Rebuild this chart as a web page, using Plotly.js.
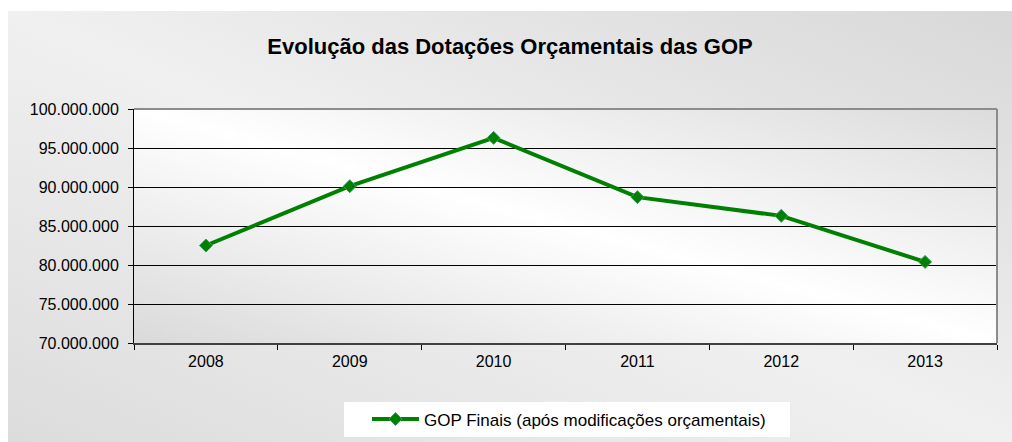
<!DOCTYPE html>
<html>
<head>
<meta charset="utf-8">
<script src="https://cdn.plot.ly/plotly-3.0.1.min.js"></script>
<style>
  body { margin: 0; background: #ffffff; }
  #chart {
    position: absolute; left: 8px; top: 11px; width: 1004px; height: 431px;
    background: linear-gradient(to bottom left, #d8d8d8 0%, #f0f0f0 50%, #dcdcdc 100%);
  }
</style>
</head>
<body>
<div id="chart"></div>
<script>
const years = ["2008", "2009", "2010", "2011", "2012", "2013"];
const gopFinais = [82500000, 90100000, 96300000, 88700000, 86300000, 80400000];
const seriesName = "GOP Finais (após modificações orçamentais)";
const chartTitle = "Evolução das Dotações Orçamentais das GOP";

// gradient for the plot area (square canvas, stretched to fit)
function plotBg() {
  const c = document.createElement("canvas");
  c.width = 400; c.height = 400;
  const ctx = c.getContext("2d");
  const g = ctx.createLinearGradient(400, 0, 0, 400);
  g.addColorStop(0, "#dcdcdc");
  g.addColorStop(0.5, "#ffffff");
  g.addColorStop(1, "#dadada");
  ctx.fillStyle = g;
  ctx.fillRect(0, 0, 400, 400);
  return c.toDataURL();
}

const font = "'Liberation Sans', Arial, sans-serif";

const trace = {
  x: years,
  y: gopFinais,
  type: "scatter",
  mode: "lines+markers",
  name: seriesName,
  line: { color: "#008000", width: 4 },
  marker: { symbol: "diamond", size: 10, color: "#008000", line: { color: "#3c9c64", width: 1 } }
};

const layout = {
  width: 1004,
  height: 431,
  margin: { l: 126, r: 15, t: 98, b: 99 },
  paper_bgcolor: "rgba(0,0,0,0)",
  plot_bgcolor: "rgba(0,0,0,0)",
  separators: ",.",
  font: { family: font, color: "#000000", size: 16 },
  title: {
    text: "<b>" + chartTitle + "</b>",
    font: { family: font, size: 22, color: "#000000" },
    x: 0.5, xanchor: "center",
    yref: "container", y: 0.918, yanchor: "middle"
  },
  xaxis: {
    type: "category",
    range: [-0.5, 5.5],
    showline: true, linecolor: "#404040", linewidth: 2,
    ticks: "outside", tickson: "boundaries", ticklen: 5, tickcolor: "#000000",
    showgrid: false,
    ticklabelstandoff: 3,
    tickfont: { size: 16 }
  },
  yaxis: {
    range: [70000000, 100000000],
    dtick: 5000000,
    tickformat: ",d",
    showline: true, linecolor: "#000000", linewidth: 1,
    ticks: "outside", ticklen: 5, tickcolor: "#000000",
    showgrid: true, gridcolor: "#000000", gridwidth: 1,
    zeroline: false,
    ticklabelstandoff: 6,
    tickfont: { size: 16 }
  },
  images: [{
    source: plotBg(),
    xref: "paper", yref: "paper",
    x: 0, y: 1, sizex: 1, sizey: 1,
    sizing: "stretch", layer: "below"
  }],
  shapes: [
    { type: "line", xref: "paper", yref: "paper", x0: 0, x1: 1, y0: 1, y1: 1, line: { color: "#8c8c8c", width: 2 } },
    { type: "line", xref: "paper", yref: "paper", x0: 1, x1: 1, y0: 0, y1: 1, line: { color: "#8c8c8c", width: 2 } },
    { type: "rect", xref: "paper", yref: "paper",
      x0: (336 - 126) / 863, x1: (782 - 126) / 863,
      y0: -(426 - 332) / 234, y1: -(391 - 332) / 234,
      fillcolor: "#ffffff", line: { width: 0 }, layer: "below" }
  ],
  showlegend: true,
  legend: {
    orientation: "h",
    xref: "container", yref: "container",
    x: 359 / 1004, xanchor: "left",
    y: 1 - 408.5 / 431, yanchor: "middle",
    itemwidth: 47,
    bgcolor: "rgba(0,0,0,0)",
    font: { family: font, size: 17, color: "#000000" }
  }
};

Plotly.newPlot("chart", [trace], layout, { displayModeBar: false, staticPlot: true });
</script>
</body>
</html>
